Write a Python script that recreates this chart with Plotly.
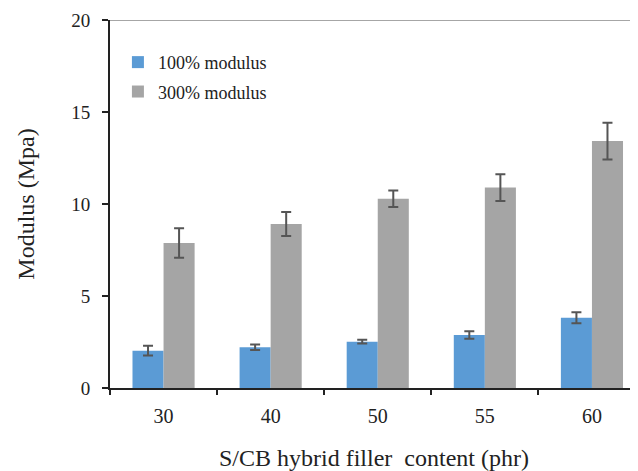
import plotly.graph_objects as go

categories = ["30", "40", "50", "55", "60"]
mod100 = [2.03, 2.21, 2.52, 2.88, 3.82]
mod100_err = [0.27, 0.15, 0.10, 0.20, 0.30]
mod300 = [7.88, 8.91, 10.29, 10.89, 13.42]
mod300_err = [0.80, 0.65, 0.45, 0.73, 1.00]
y_ticks = [0, 5, 10, 15, 20]

FONT = "Liberation Serif, Times New Roman, serif"
TXT = "#222222"

fig = go.Figure()
fig.add_trace(go.Bar(
    x=categories, y=mod100, name="100% modulus",
    marker=dict(color="#5B9BD5", line=dict(width=0)),
    error_y=dict(type="data", array=mod100_err, color="#555555", thickness=2, width=5),
    legendgroup="a",
))
fig.add_trace(go.Bar(
    x=categories, y=mod300, name="300% modulus",
    marker=dict(color="#A5A5A5", line=dict(width=0)),
    error_y=dict(type="data", array=mod300_err, color="#555555", thickness=2, width=5),
    legendgroup="b",
))

fig.add_shape(type="line", xref="paper", yref="y", x0=0, x1=1, y0=20, y1=20,
              line=dict(color="#A6A6A6", width=2), layer="below")

fig.update_layout(
    width=630, height=463,
    margin=dict(l=102, r=0, t=12, b=83),
    paper_bgcolor="white", plot_bgcolor="white",
    barmode="group", bargap=0.42, bargroupgap=0,
    font=dict(family=FONT, color=TXT),
    showlegend=True,
    legend=dict(
        x=0.015, y=0.935, xanchor="left", yanchor="top",
        font=dict(family=FONT, size=18, color=TXT),
        itemwidth=30, tracegroupgap=3, traceorder="grouped",
        bgcolor="rgba(0,0,0,0)",
    ),
    xaxis=dict(
        type="category", range=[-0.5, 4.43], automargin=False,
        tickson="boundaries", ticks="outside", ticklen=5, tickwidth=2, tickcolor=TXT,
        showline=True, linecolor=TXT, linewidth=2,
        tickfont=dict(family=FONT, size=20, color=TXT), ticklabelstandoff=9,
        showgrid=False,
        title=dict(text="S/CB hybrid filler  content (phr)",
                   font=dict(family=FONT, size=24, color=TXT), standoff=24),
    ),
    yaxis=dict(
        range=[0, 20], tickvals=y_ticks, automargin=False,
        ticks="outside", ticklen=6, tickwidth=2, tickcolor=TXT,
        showline=True, linecolor=TXT, linewidth=2,
        tickfont=dict(family=FONT, size=19, color=TXT), ticklabelstandoff=8,
        showgrid=False, zeroline=False,
        title=dict(text="Modulus (Mpa)",
                   font=dict(family=FONT, size=24, color=TXT), standoff=30),
    ),
)

fig.write_html("out.html")
